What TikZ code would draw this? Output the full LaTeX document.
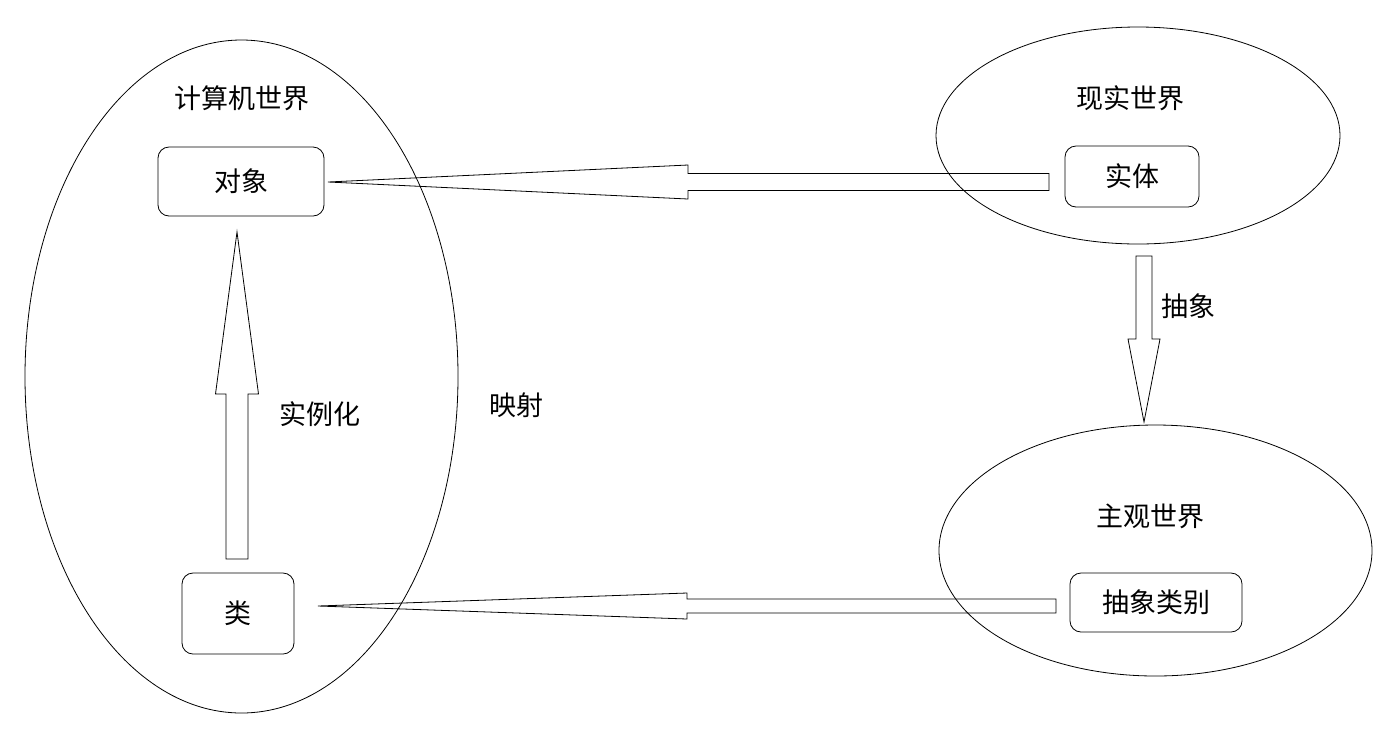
\documentclass[tikz,border=0pt]{standalone}
\usepackage{fontspec}
\setmainfont{Noto Sans CJK SC}
\begin{document}
\begin{tikzpicture}[x=1pt,y=-1pt,line width=0.8pt,
  box/.style={draw,rounded corners=11pt,inner sep=0pt,font=\fontsize{27}{31}\selectfont},
  lbl/.style={font=\fontsize{27}{31}\selectfont,inner sep=0pt},
  blk/.style={draw,line join=miter}]
\useasboundingbox (0,0) rectangle (1399,740);
% worlds
\draw (241.5,376.5) ellipse [x radius=216.5, y radius=336.5];
\draw (1138,135.5) ellipse [x radius=202, y radius=108.5];
\draw (1155.5,550.5) ellipse [x radius=216.5, y radius=125.5];
% boxes
\node[box,minimum width=166pt,minimum height=69pt] (obj) at (241,181.5) {对象};
\node[box,minimum width=134pt,minimum height=61pt] (ent) at (1132,176.5) {实体};
\node[box,minimum width=112pt,minimum height=81pt] (cls) at (238,613.5) {类};
\node[box,minimum width=172pt,minimum height=59pt] (abs) at (1156,602.5) {抽象类别};
% labels
\node[lbl] (cw) at (242,98) {计算机世界};
\node[lbl] (rw) at (1130,98) {现实世界};
\node[lbl] (sw) at (1150,516) {主观世界};
\node[lbl] (inst) at (320,414) {实例化};
\node[lbl] (map) at (516,405) {映射};
\node[lbl] (abst) at (1188,306) {抽象};
% block arrows
\coordinate (t1) at (328,182);
\draw[blk] (t1) -- (688,165) -- (688,173.5) -- (1049,173.5) -- (1049,190.5) -- (688,190.5) -- (688,199) -- cycle;
\coordinate (t2) at (318,606);
\draw[blk] (t2) -- (687,593) -- (687,599) -- (1056,599) -- (1056,613) -- (687,613) -- (687,619) -- cycle;
\coordinate (t3) at (1144,422);
\draw[blk] (t3) -- (1128,339) -- (1136,339) -- (1136,256) -- (1152,256) -- (1152,339) -- (1160,339) -- cycle;
\coordinate (t4) at (237,232);
\draw[blk] (t4) -- (215.5,394) -- (226,394) -- (226,559) -- (248,559) -- (248,394) -- (258.5,394) -- cycle;
\end{tikzpicture}
\end{document}
